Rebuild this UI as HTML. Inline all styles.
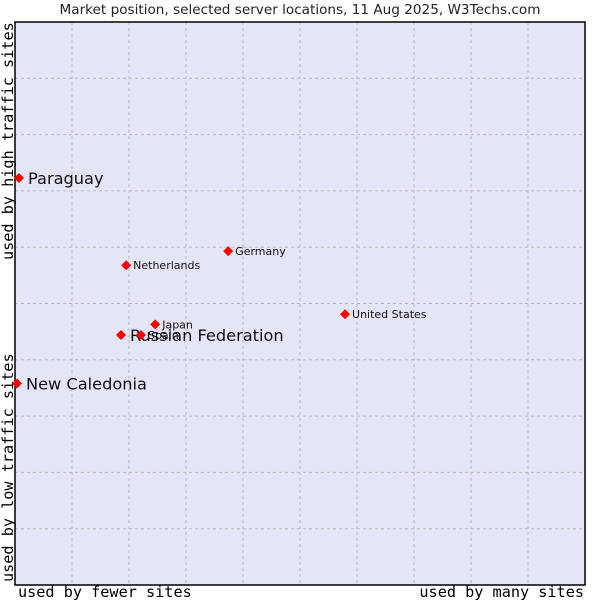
<!DOCTYPE html>
<html><head><meta charset="utf-8"><style>
body{margin:0;background:#fff;width:600px;height:600px;overflow:hidden}
svg{display:block}
</style></head><body>
<svg id="c" width="600" height="600" xmlns="http://www.w3.org/2000/svg"></svg>
<script>
const names=["Paraguay","New Caledonia","Russian Federation","Spain","Japan","Netherlands","Germany","United States"];
const xVals=[0.7,0.35,18.6,22.1,24.6,19.5,37.4,57.9];
const yVals=[72.3,35.8,44.4,44.4,46.3,56.8,59.3,48.1];
const big=[true,true,true,false,false,false,false,false];
const L=15,T=22,R=585,B=585;
const sx=v=>L+v/100*(R-L), sy=v=>B-v/100*(B-T);
const s=document.getElementById('c');const NS='http://www.w3.org/2000/svg';
function el(t,a,p){const e=document.createElementNS(NS,t);for(const k in a)e.setAttribute(k,a[k]);(p||s).appendChild(e);return e;}
let bg=el('rect',{x:L,y:T,width:R-L,height:B-T,fill:'#e4e6f8'});


for(let i=1;i<10;i++){
 let g=el('line',{x1:sx(i*10),x2:sx(i*10),y1:T,y2:B,stroke:'#b8b8b8','stroke-dasharray':'3,3'});
 
 
 let h=el('line',{x1:L,x2:R,y1:sy(i*10),y2:sy(i*10),stroke:'#b8b8b8','stroke-dasharray':'3,3'});
 
 
}
let fr=el('rect',{x:L,y:T,width:R-L,height:B-T,fill:'none',stroke:'#000','stroke-width':1.5});


function txt(str,a,name){const t=el('text',a);t.textContent=str;return t;}
txt('Market position, selected server locations, 11 Aug 2025, W3Techs.com',{x:300,y:14,'text-anchor':'middle','font-family':'DejaVu Sans, sans-serif','font-size':13.6,fill:'#222'},'chart-title');
const mono={'font-family':'DejaVu Sans Mono, Liberation Mono, monospace','font-size':15.2,fill:'#000'};
txt('used by fewer sites',Object.assign({x:18,y:597},mono),'x-axis-label-left');
txt('used by many sites',Object.assign({x:584,y:597,'text-anchor':'end'},mono),'x-axis-label-right');
txt('used by low traffic sites',Object.assign({x:0,y:0,transform:'translate(13,582) rotate(-90)'},mono),'y-axis-label-bottom');
txt('used by high traffic sites',Object.assign({x:0,y:0,transform:'translate(13,260) rotate(-90)'},mono),'y-axis-label-top');
for(let i=0;i<names.length;i++){
 const x=sx(xVals[i]),y=sy(yVals[i]);
 const d=el('path',{d:`M${x} ${y-5}L${x+5} ${y}L${x} ${y+5}L${x-5} ${y}Z`,fill:'#f00'});
 
 
 txt(names[i],{x:x+(big[i]?9:7),y:y+(big[i]?6:4),'font-family':'DejaVu Sans, sans-serif','font-size':big[i]?16.2:11,fill:'#111'},'label-'+names[i].toLowerCase().replace(/ /g,'-'));
}
</script>
</body></html>
